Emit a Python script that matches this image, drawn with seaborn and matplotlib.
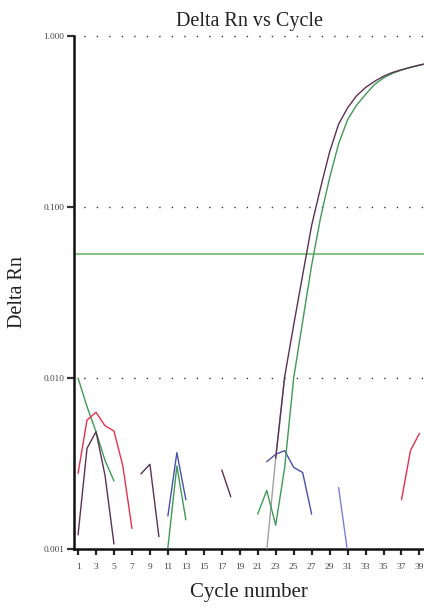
import numpy as np
import pandas as pd
import matplotlib
matplotlib.use("Agg")
import matplotlib.pyplot as plt
import seaborn as sns
from matplotlib.ticker import FixedLocator, NullLocator, FixedFormatter

# ---------------- data ----------------
# Amplification curves
purple_cycles = list(range(23, 41))
purple_values = [0.0034, 0.0102, 0.0204, 0.040, 0.078, 0.13, 0.21, 0.305, 0.38,
                 0.447, 0.50, 0.543, 0.582, 0.612, 0.635, 0.656, 0.676, 0.695]
gray_cycles = [22, 23, 24]
gray_values = [0.00098, 0.0034, 0.0102]
green_cycles = list(range(21, 41))
green_values = [0.0016, 0.0022, 0.00138, 0.0030, 0.0100, 0.0214, 0.0457, 0.087, 0.148,
                0.234, 0.324, 0.394, 0.455, 0.521, 0.569, 0.605, 0.632, 0.655, 0.675, 0.692]

# Baseline noise segments
green_seg1_cycles = [1, 2, 3, 4, 5]
green_seg1_values = [0.0100, 0.0068, 0.00485, 0.0033, 0.0025]
red_seg1_cycles = [1, 2, 3, 4, 5, 6, 7]
red_seg1_values = [0.00277, 0.00568, 0.0063, 0.00526, 0.0049, 0.00303, 0.00132]
purple_seg1_cycles = [1, 2, 3, 4, 5]
purple_seg1_values = [0.00121, 0.00388, 0.00485, 0.0027, 0.00107]
purple_seg2_cycles = [8, 9, 10]
purple_seg2_values = [0.00275, 0.00313, 0.00118]
blue_seg1_cycles = [11, 12, 13]
blue_seg1_values = [0.00156, 0.00366, 0.00194]
green_seg2_cycles = [11, 12, 13]
green_seg2_values = [0.00102, 0.00306, 0.00148]
purple_seg3_cycles = [17, 18]
purple_seg3_values = [0.0029, 0.00202]
blue_seg2_cycles = [22, 23, 24, 25, 26, 27]
blue_seg2_values = [0.00324, 0.00358, 0.00376, 0.0030, 0.0028, 0.0016]
blue_seg3_cycles = [30, 31]
blue_seg3_values = [0.00229, 0.00096]
red_seg2_cycles = [37, 38, 39]
red_seg2_values = [0.00194, 0.00376, 0.00475]

threshold = 0.053

y_ticks = [0.001, 0.01, 0.1, 1.0]
y_tick_labels = ["0.001", "0.010", "0.100", "1.000"]
x_ticks = list(range(1, 40, 2))

# ---------------- style ----------------
sns.set_theme(style="white")
plt.rcParams['font.family'] = ['Liberation Serif', 'DejaVu Serif']

GREEN = "#3f9a55"
RED = "#e8304f"
PURPLE = "#5a3350"
BLUE = "#4b4fae"
LAVENDER = "#7d7fd6"
GRAY = "#a0a0a0"
THRESH = "#86c486"

fig = plt.figure(figsize=(4.24, 6.14), dpi=100)
ax = fig.add_axes([74 / 424, 65 / 614, 1 - 74 / 424 + 0.002, (549 - 36) / 614])

ax.axhline(threshold, color=THRESH, lw=1.4, zorder=1)

segments = [
    (green_seg1_cycles, green_seg1_values, GREEN),
    (red_seg1_cycles, red_seg1_values, RED),
    (purple_seg1_cycles, purple_seg1_values, PURPLE),
    (purple_seg2_cycles, purple_seg2_values, PURPLE),
    (blue_seg1_cycles, blue_seg1_values, BLUE),
    (green_seg2_cycles, green_seg2_values, GREEN),
    (purple_seg3_cycles, purple_seg3_values, PURPLE),
    (blue_seg2_cycles, blue_seg2_values, BLUE),
    (blue_seg3_cycles, blue_seg3_values, LAVENDER),
    (red_seg2_cycles, red_seg2_values, RED),
    (gray_cycles, gray_values, GRAY),
    (green_cycles, green_values, GREEN),
    (purple_cycles, purple_values, PURPLE),
]
for cyc, vals, col in segments:
    df = pd.DataFrame({"cycle": cyc, "rn": vals})
    sns.lineplot(data=df, x="cycle", y="rn", color=col, lw=1.0,
                 estimator=None, sort=False, ax=ax, zorder=3)

ax.set_yscale("log")
ax.set_ylim(0.001, 1.0)
ax.set_xlim(0.55, 39.6)

ax.yaxis.set_major_locator(FixedLocator(y_ticks))
ax.yaxis.set_major_formatter(FixedFormatter(y_tick_labels))
ax.yaxis.set_minor_locator(NullLocator())
ax.set_xticks(x_ticks)
ax.set_xticklabels([str(t) for t in x_ticks])

ax.tick_params(axis="y", which="major", direction="out", length=5, width=1.6,
               labelsize=6.7, pad=2, left=True, colors="#333333", labelcolor="#444444")
ax.tick_params(axis="x", which="major", direction="out", length=4, width=1.6,
               labelsize=6.8, pad=6, bottom=True, colors="#222222", labelcolor="#444444")

for side in ["top", "right"]:
    ax.spines[side].set_visible(False)
for side in ["left", "bottom"]:
    ax.spines[side].set_color("#111111")
    ax.spines[side].set_linewidth(1.8)

ax.grid(False)
for yv in [0.01, 0.1, 1.0]:
    ax.axhline(yv, color="#333333", lw=1.0, linestyle=(2, (1, 8)), zorder=0, clip_on=False)

ax.set_title("Delta Rn vs Cycle", fontsize=14.5, color="#222222", pad=7)
ax.set_xlabel("Cycle number", fontsize=15, color="#222222", labelpad=9)
ax.set_ylabel("Delta Rn", fontsize=14.5, color="#222222", labelpad=12)

fig.savefig("out.png", dpi=100, facecolor="white")
